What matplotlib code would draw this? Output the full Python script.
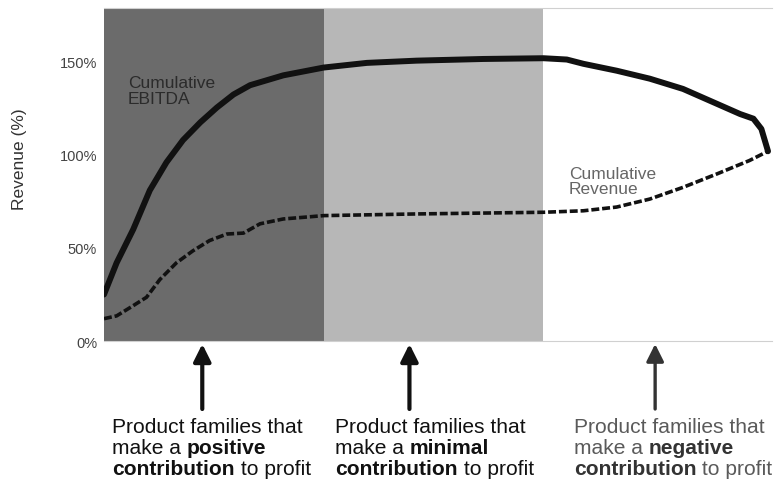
import matplotlib
matplotlib.use("Agg")
import matplotlib.pyplot as plt

plt.rcParams['font.family'] = ['Liberation Sans', 'DejaVu Sans']

# share of product families (%) vs cumulative EBITDA (% of total)
ebitda_x = [0, 1.9, 4.4, 6.9, 9.4, 11.9, 14.5, 17.0, 19.5, 22.0, 27.0, 33.1, 39.6, 47.1,
            57.1, 66.2, 69.7, 72.2, 77.2, 82.2, 87.2, 92.3, 95.8, 97.8, 99.0, 100]
ebitda_y = [25, 42, 60, 81, 96, 108, 117.5, 125.5, 132.5, 137.5, 142.8, 147, 149.5, 150.7,
            151.6, 152, 151.3, 149, 145.3, 141, 135.5, 127.5, 122, 119.5, 114, 102]

# cumulative revenue (% of total)
rev_x = [0, 1.9, 4.4, 6.4, 8.4, 10.9, 13.4, 15.9, 18.5, 21.0, 23.5, 27.0, 33.1, 47.1,
         66.2, 72.2, 77.2, 82.2, 87.2, 92.3, 97.2, 100]
rev_y = [12, 13.5, 19, 23.5, 33, 42, 48.5, 54, 57.5, 58, 63, 65.6, 67.4, 68.3,
         69.2, 70, 72, 76.3, 82.6, 89.8, 97, 102]

bands = [(0, 33.1, '#6b6b6b'), (33.1, 66.1, '#b7b7b7'), (66.1, 100.6, '#ffffff')]
yticks = [0, 50, 100, 150]
ytick_labels = ['0%', '50%', '100%', '150%']

arrow_x = [14.8, 46.0, 83.0]
captions = [
    [[("Product families that", False)],
     [("make a ", False), ("positive", True)],
     [("contribution", True), (" to profit", False)]],
    [[("Product families that", False)],
     [("make a ", False), ("minimal", True)],
     [("contribution", True), (" to profit", False)]],
    [[("Product families that", False)],
     [("make a ", False), ("negative", True)],
     [("contribution", True), (" to profit", False)]],
]
caption_left_px = [112, 335, 574]
caption_colors = [('#111111', '#111111'), ('#111111', '#111111'), ('#5a5a5a', '#333333')]

W, H = 777, 489
fig = plt.figure(figsize=(W / 100, H / 100), dpi=100)
ax = fig.add_axes([104 / W, (H - 342) / H, (772 - 104) / W, (342 - 9) / H])

for x0, x1, c in bands:
    ax.axvspan(x0, x1, color=c, lw=0, zorder=0)

ax.plot(ebitda_x, ebitda_y, color='#111111', lw=4.3, solid_capstyle='round',
        solid_joinstyle='round', zorder=3)
ax.plot(rev_x, rev_y, color='#111111', lw=2.6, dashes=(2.2, 0.8), zorder=3)

ax.set_xlim(0, 100.6)
ax.set_ylim(0, 179)
ax.set_yticks(yticks)
ax.set_yticklabels(ytick_labels, fontsize=10.5, color='#444444')
ax.set_xticks([])
ax.tick_params(axis='y', length=0, pad=5)
for s in ['left', 'right']:
    ax.spines[s].set_visible(False)
for s in ['top', 'bottom']:
    ax.spines[s].set_color('#d0d0d0')
    ax.spines[s].set_linewidth(0.8)

fig.text(20 / W, 1 - 159 / H, 'Revenue (%)', rotation=90, ha='center', va='center',
         fontsize=12.5, color='#333333')

ax.text(3.6, 134.5, 'Cumulative\nEBITDA', fontsize=12.5, color='#2b2b2b',
        ha='left', va='center', linespacing=1.05, zorder=4)
ax.text(70.0, 86, 'Cumulative\nRevenue', fontsize=12.5, color='#666666',
        ha='left', va='center', linespacing=1.05, zorder=4)

# arrows under each band
for i, ax_x in enumerate(arrow_x):
    col = '#111111' if i < 2 else '#333333'
    ax.annotate('', xy=(ax_x, 144), xytext=(ax_x, 79),
                xycoords=('data', 'figure pixels'), textcoords=('data', 'figure pixels'),
                arrowprops=dict(arrowstyle='-|>', lw=3.0 if i < 2 else 2.4, color=col,
                                mutation_scale=26, shrinkA=0, shrinkB=0),
                annotation_clip=False)

# captions with bold words
renderer = fig.canvas.get_renderer()
fs = 15.1
line_y_px = [61, 40, 19]


def text_width(s, bold):
    t = fig.text(0, 0, s + '|', fontsize=fs, fontweight='bold' if bold else 'normal')
    bar = fig.text(0, 0, '|', fontsize=fs, fontweight='bold' if bold else 'normal')
    w = t.get_window_extent(renderer).width - bar.get_window_extent(renderer).width
    t.remove()
    bar.remove()
    return w


for cap, left, (c_norm, c_bold) in zip(captions, caption_left_px, caption_colors):
    for line, ypx in zip(cap, line_y_px):
        x = left
        for s, bold in line:
            fig.text(x / W, ypx / H, s, fontsize=fs, ha='left', va='center',
                     fontweight='bold' if bold else 'normal',
                     color=c_bold if bold else c_norm)
            x += text_width(s, bold)

fig.savefig('out.png', dpi=100)
